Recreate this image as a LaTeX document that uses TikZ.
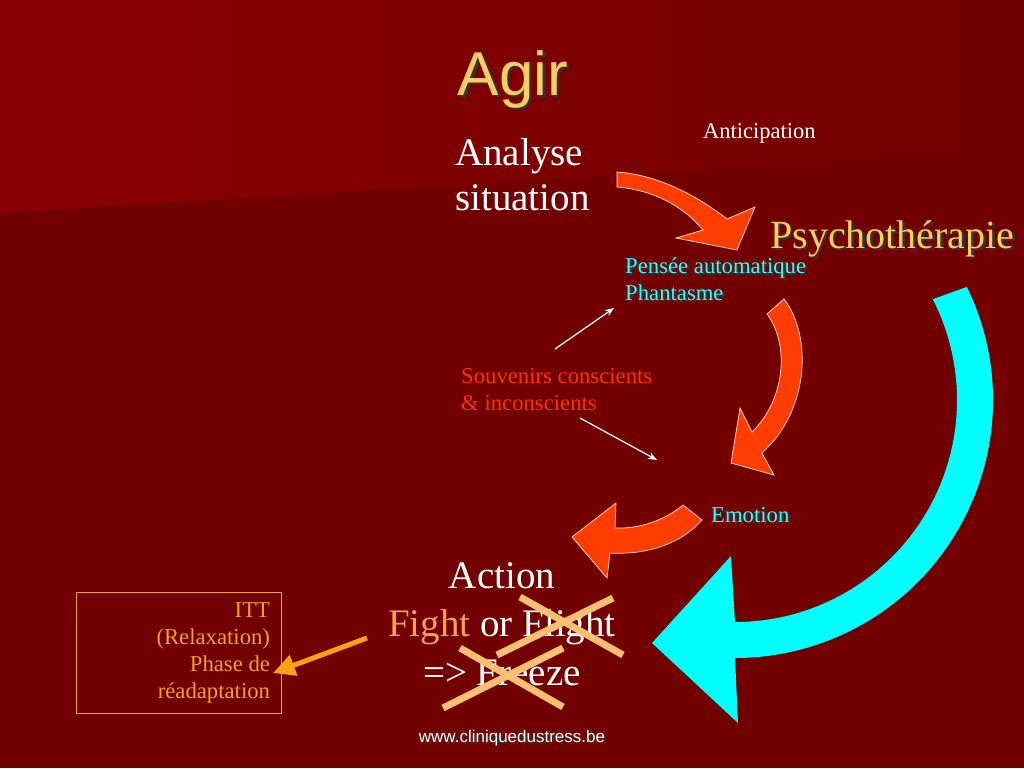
\documentclass[tikz,border=0pt]{standalone}
\usepackage{fontspec}
\setmainfont{Liberation Serif}
\newfontfamily\arialfont{Liberation Sans}
\usepackage{tikz}
\usetikzlibrary{positioning, arrows.meta}

\definecolor{slidebg}{HTML}{720000}
\definecolor{slidetop}{HTML}{8A0000}
\definecolor{titlegold}{HTML}{FFCC66}
\definecolor{aqua}{HTML}{33FFFF}
\definecolor{souvred}{HTML}{FF3300}
\definecolor{fightorange}{HTML}{F4A450}
\definecolor{ittorange}{HTML}{F0A030}
\definecolor{crossorange}{HTML}{F8C070}
\definecolor{arrowred}{HTML}{FF3D00}
\definecolor{cyanarrow}{HTML}{00FFFF}
\definecolor{pointerorange}{HTML}{FFA010}
\def\shadowed#1{\makebox[0pt][l]{\hspace{2.4pt}\raisebox{-2.4pt}{\color{black!80}#1}}#1}
\def\fsize#1#2{\fontsize{#1}{#2}\selectfont}

\begin{document}
\begin{tikzpicture}[x=1pt, y=-1pt,
              every node/.style = {inner sep=0pt, text=white},
              redarrow/.style = {fill=arrowred, draw=white!85!arrowred,
                line width=0.7pt, line join=miter},
              thinarrow/.style = {draw=white, line width=1.2pt,
                -{Stealth[length=9pt, width=7pt]}},
              cross/.style = {draw=crossorange, line width=7pt}]
  \useasboundingbox (0,0) rectangle (1024,768);
  % background
  \fill[slidebg] (0,0) rectangle (1024,768);
  \shade[left color=slidetop, right color=slidebg]
    (0,0) -- (1024,0) -- (1024,150) -- (0,213) -- cycle;

  % texts (multi-line nodes sit on their last baseline)
  \node[anchor=base, font=\arialfont\fsize{62}{70}, text=titlegold] (title)
    at (513,95) {\shadowed{Agir}};
  \node[anchor=base west, font=\fsize{22.5}{27}] (antic)
    at (703,138) {Anticipation};
  \node[anchor=base west, align=left, font=\fsize{39}{45}] (analyse)
    at (455,210) {Analyse\\situation};
  \node[anchor=base west, font=\fsize{40}{48}, text=titlegold] (psycho)
    at (770,248) {\shadowed{Psychothérapie}};
  \node[anchor=base west, align=left, font=\fsize{22.7}{27}, text=aqua] (pensee)
    at (625,300) {\shadowed{Pensée automatique}\\\shadowed{Phantasme}};
  \node[anchor=base west, align=left, font=\fsize{22.7}{27}, text=souvred] (souv)
    at (461,410) {Souvenirs conscients\\\& inconscients};
  \node[anchor=base west, font=\fsize{22.7}{27}, text=aqua] (emotion)
    at (711,522) {\shadowed{Emotion}};
  \node[anchor=base, align=center, font=\fsize{39}{48.5}] (action)
    at (502,685) {Action\\{\color{fightorange}Fight} or Flight\\=> Freeze};
  \node[draw=ittorange, line width=0.8pt, text=ittorange, align=flush right,
        text width=183pt, inner xsep=11pt, minimum height=121pt,
        font=\fsize{22.7}{27}] (itt)
    at (178.5,652.5) {ITT\\(Relaxation)\\Phase de\\réadaptation};
  \node[anchor=base, font=\arialfont\fsize{17}{20}] (url)
    at (512,742) {\shadowed{www.cliniquedustress.be}};

  % big curved arrows
  \path[redarrow] (617,172) .. controls (650,174) and (690,190) .. (727,219)
    -- (755,207) -- (737,250) -- (676,238) -- (703,230)
    .. controls (685,208) and (655,190) .. (617,187) -- cycle;
  \path[redarrow] (784,299) .. controls (812,335) and (810,410) .. (762,453)
    -- (774,475) -- (731,463) -- (740,408) -- (752,432)
    .. controls (785,400) and (790,345) .. (767,314) -- cycle;
  \path[redarrow] (702,520) .. controls (680,545) and (645,555) .. (610,553)
    -- (607,578) -- (572,537) -- (616,503) -- (615,528)
    .. controls (640,529) and (665,520) .. (683,505) -- cycle;
  \coordinate (cyc) at (735,400);
  \fill[cyanarrow] (735,622) arc[start angle=90, end angle=-27, radius=222]
    -- ([shift={(-26:258)}]cyc) arc[start angle=-26, end angle=90, radius=258]
    -- (738,723) -- (652,643) -- (731,556) -- cycle;

  % small arrows
  \coordinate (souvup) at (555,349);
  \coordinate (penseein) at (614,308);
  \coordinate (souvdown) at (580,418);
  \coordinate (emotionin) at (657,460);
  \draw[thinarrow] (souvup) -- (penseein);
  \draw[thinarrow] (souvdown) -- (emotionin);
  \coordinate (actionout) at (367,638);
  \coordinate (ittin) at (273,673);
  \draw[draw=pointerorange, line width=5pt,
        -{Triangle[length=22pt, width=21pt]}] (actionout) -- (ittin);

  % crossed out
  \draw[cross] (520,597) -- (623,655);
  \draw[cross] (613,598) -- (497,655);
  \draw[cross] (460,648) -- (563,707);
  \draw[cross] (563,648) -- (443,708);
\end{tikzpicture}
\end{document}
